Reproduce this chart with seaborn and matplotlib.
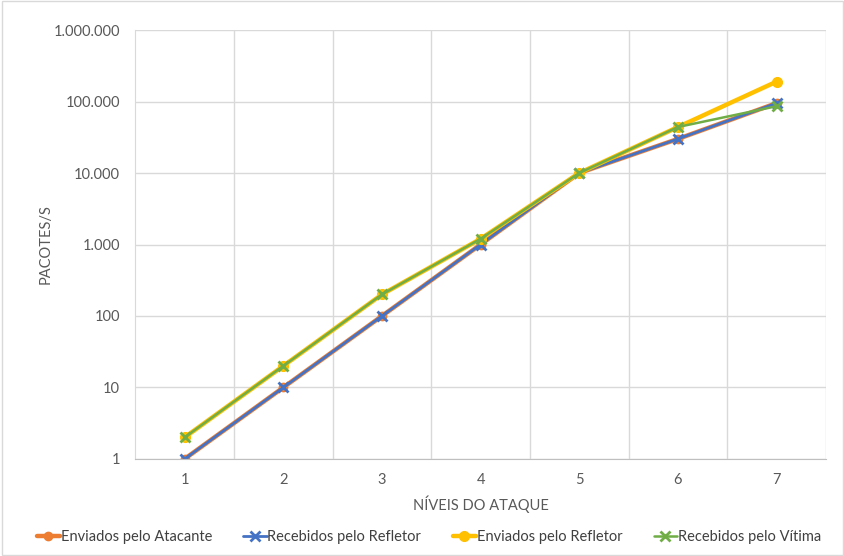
import matplotlib
matplotlib.use("Agg")
import matplotlib.pyplot as plt
import matplotlib.ticker as mticker
import seaborn as sns
import pandas as pd

levels = [1, 2, 3, 4, 5, 6, 7]
enviados_atacante = [1, 10, 100, 1000, 10000, 30000, 95000]
recebidos_refletor = [1, 10, 100, 1000, 10000, 30000, 95000]
enviados_refletor = [2, 20, 200, 1200, 10000, 44000, 190000]
recebidos_vitima = [2, 20, 200, 1200, 10000, 44000, 86000]

names = ["Enviados pelo Atacante", "Recebidos pelo Refletor",
         "Enviados pelo Refletor", "Recebidos pelo Vítima"]
series = [enviados_atacante, recebidos_refletor, enviados_refletor, recebidos_vitima]
colors = ["#ED7D31", "#4472C4", "#FFC000", "#70AD47"]
markers = ["o", "x", "o", "x"]
lws = [3.2, 2.0, 3.2, 1.8]
msizes = [6, 7, 7, 7]

sns.set_style("white")
plt.rcParams['font.family'] = ['Lato', 'DejaVu Sans']

fig = plt.figure(figsize=(8.45, 5.56), dpi=100)
ax = fig.add_axes([0.16, 0.1745, 0.8175, 0.7715])

for name, vals, c, m, lw, ms in zip(names, series, colors, markers, lws, msizes):
    df = pd.DataFrame({"x": levels, "y": vals})
    sns.lineplot(data=df, x="x", y="y", ax=ax, color=c, marker=m, linewidth=lw,
                 markersize=ms, markeredgecolor=c, markeredgewidth=2 if m == "x" else 1,
                 label=name)

ax.set_yscale("log")
ax.set_ylim(1, 1e6)
ax.set_xlim(0.5, 7.5)
ax.set_yticks([1, 10, 100, 1000, 10000, 100000, 1000000])
ax.yaxis.set_major_formatter(mticker.FuncFormatter(lambda v, p: f"{int(round(v)):,}".replace(",", ".")))
ax.yaxis.set_minor_locator(mticker.NullLocator())
ax.set_xticks(levels)
ax.set_xticklabels([str(l) for l in levels])
ax.set_xticks([1.5, 2.5, 3.5, 4.5, 5.5, 6.5, 7.5], minor=True)

ax.grid(True, which="major", axis="y", color="#D9D9D9", linewidth=1)
ax.grid(True, which="minor", axis="x", color="#D9D9D9", linewidth=1)
ax.tick_params(axis="both", which="both", length=0, colors="#595959", labelsize=10.5)
ax.tick_params(axis="y", pad=11)
ax.tick_params(axis="x", pad=10)
for s in ["top", "right"]:
    ax.spines[s].set_visible(False)
ax.spines["left"].set_color("#D9D9D9")
ax.spines["bottom"].set_color("#BFBFBF")

ax.set_xlabel("NÍVEIS DO ATAQUE", color="#595959", fontsize=10.5, labelpad=6)
ax.set_ylabel("PACOTES/S", color="#595959", fontsize=10.5)
ax.yaxis.set_label_coords(-0.12, 0.5)

ax.legend(loc="upper center", bbox_to_anchor=(0.425, -0.135), ncol=4, frameon=False,
          fontsize=10.5, labelcolor="#404040", handlelength=1.6, handletextpad=0.05,
          columnspacing=2.15)

fig.patches.append(plt.Rectangle((0.002, 0.002), 0.996, 0.996, transform=fig.transFigure,
                                 fill=False, edgecolor="#D9D9D9", linewidth=1))
fig.savefig("out.png", dpi=100)
